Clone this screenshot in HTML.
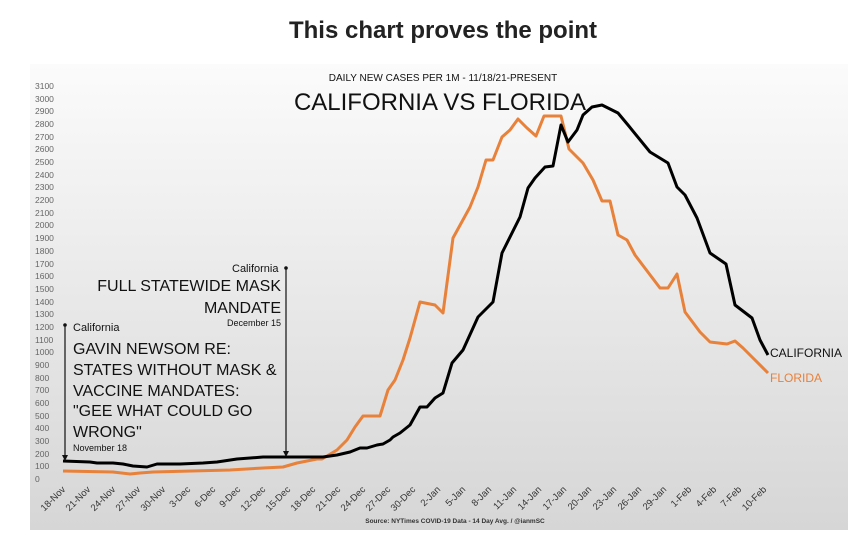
<!DOCTYPE html>
<html><head><meta charset="utf-8"><style>
body{margin:0;background:#fff;}
svg{display:block;font-family:"Liberation Sans",sans-serif;}
</style></head><body>
<svg width="867" height="548" viewBox="0 0 867 548">
<defs><linearGradient id="g" x1="0" y1="0" x2="0" y2="1">
<stop offset="0" stop-color="#fbfbfb"/><stop offset="1" stop-color="#d6d6d6"/></linearGradient></defs>
<text x="443" y="38" text-anchor="middle" font-size="24" font-weight="bold" fill="#222">This chart proves the point</text>
<rect x="30" y="64" width="818" height="466" fill="url(#g)"/>
<text x="443" y="81" text-anchor="middle" font-size="10" fill="#111">DAILY NEW CASES PER 1M - 11/18/21-PRESENT</text>
<text x="440" y="110" text-anchor="middle" font-size="24" fill="#111">CALIFORNIA VS FLORIDA</text>
<g font-size="8.5" fill="#666">
<text x="35" y="89">3100</text><text x="35" y="102">3000</text><text x="35" y="114">2900</text><text x="35" y="127">2800</text><text x="35" y="140">2700</text><text x="35" y="152">2600</text><text x="35" y="165">2500</text><text x="35" y="178">2400</text><text x="35" y="190">2300</text><text x="35" y="203">2200</text><text x="35" y="216">2100</text><text x="35" y="228">2000</text><text x="35" y="241">1900</text><text x="35" y="254">1800</text><text x="35" y="267">1700</text><text x="35" y="279">1600</text><text x="35" y="292">1500</text><text x="35" y="305">1400</text><text x="35" y="317">1300</text><text x="35" y="330">1200</text><text x="35" y="343">1100</text><text x="35" y="355">1000</text><text x="35" y="368">900</text><text x="35" y="381">800</text><text x="35" y="393">700</text><text x="35" y="406">600</text><text x="35" y="419">500</text><text x="35" y="431">400</text><text x="35" y="444">300</text><text x="35" y="457">200</text><text x="35" y="469">100</text><text x="35" y="482">0</text>
</g>
<g font-size="9.5" fill="#333" text-anchor="end">
<text transform="translate(66,490) rotate(-45)">18-Nov</text>
<text transform="translate(91,490) rotate(-45)">21-Nov</text>
<text transform="translate(116,490) rotate(-45)">24-Nov</text>
<text transform="translate(141,490) rotate(-45)">27-Nov</text>
<text transform="translate(166,490) rotate(-45)">30-Nov</text>
<text transform="translate(191,490) rotate(-45)">3-Dec</text>
<text transform="translate(216,490) rotate(-45)">6-Dec</text>
<text transform="translate(241,490) rotate(-45)">9-Dec</text>
<text transform="translate(266,490) rotate(-45)">12-Dec</text>
<text transform="translate(291,490) rotate(-45)">15-Dec</text>
<text transform="translate(316,490) rotate(-45)">18-Dec</text>
<text transform="translate(341,490) rotate(-45)">21-Dec</text>
<text transform="translate(366,490) rotate(-45)">24-Dec</text>
<text transform="translate(391,490) rotate(-45)">27-Dec</text>
<text transform="translate(416,490) rotate(-45)">30-Dec</text>
<text transform="translate(441,490) rotate(-45)">2-Jan</text>
<text transform="translate(466,490) rotate(-45)">5-Jan</text>
<text transform="translate(492,490) rotate(-45)">8-Jan</text>
<text transform="translate(517,490) rotate(-45)">11-Jan</text>
<text transform="translate(542,490) rotate(-45)">14-Jan</text>
<text transform="translate(567,490) rotate(-45)">17-Jan</text>
<text transform="translate(592,490) rotate(-45)">20-Jan</text>
<text transform="translate(617,490) rotate(-45)">23-Jan</text>
<text transform="translate(642,490) rotate(-45)">26-Jan</text>
<text transform="translate(667,490) rotate(-45)">29-Jan</text>
<text transform="translate(692,490) rotate(-45)">1-Feb</text>
<text transform="translate(717,490) rotate(-45)">4-Feb</text>
<text transform="translate(742,490) rotate(-45)">7-Feb</text>
<text transform="translate(767,490) rotate(-45)">10-Feb</text>
</g>
<text x="455" y="523" text-anchor="middle" font-size="6.5" font-weight="bold" fill="#333">Source: NYTimes COVID-19 Data - 14 Day Avg. / @ianmSC</text>
<polyline fill="none" stroke="#e8813a" stroke-width="3" stroke-linejoin="round" points="63,471 113,472 130,474 140,473 153,472 230,470 263,468 283,467 297,463 317,459 322,459 337,450 347,440 355,427 363,416 380,416 388,390 395,380 403,360 410,338 420,302 435,305 443,313 453,238 470,207 478,187 486,160 493,160 502,137 510,130 518,119 527,128 536,136 544,116 561,116 569,149 583,163 593,180 602,201 610,201 618,235 627,240 635,255 660,288 668,288 677,274 685,312 700,332 710,342 727,344 735,341 743,348 753,358 768,373"/>
<polyline fill="none" stroke="#000" stroke-width="3" stroke-linejoin="round" points="63,461 90,462 97,463 113,463 123,464 133,466 147,467 157,464 180,464 203,463 217,462 237,459 263,457 297,457 323,457 337,455 350,452 360,448 367,448 377,445 383,444 390,440 393,437 400,433 410,425 420,407 427,407 435,398 443,393 452,363 463,350 478,317 493,302 502,253 520,217 528,188 535,178 545,167 553,166 561,125 568,142 577,130 583,115 592,107 602,105 618,113 628,125 650,152 668,163 677,187 685,195 697,218 710,253 726,264 735,305 752,318 760,340 768,355"/>
<text x="770" y="357" font-size="12" fill="#111">CALIFORNIA</text>
<text x="770" y="382" font-size="12" fill="#e8813a">FLORIDA</text>
<g stroke="#111" stroke-width="1.2"><line x1="65" y1="326" x2="65" y2="456"/><line x1="286" y1="268" x2="286" y2="452"/></g>
<circle cx="65" cy="325" r="1.8" fill="#111"/><circle cx="286" cy="268" r="1.8" fill="#111"/>
<path d="M62,455 L65,461 L68,455Z M283,451 L286,457 L289,451Z" fill="#111"/>
<g fill="#111">
<text x="73" y="331" font-size="11">California</text>
<g font-size="16"><text x="73" y="354">GAVIN NEWSOM RE:</text><text x="73" y="375">STATES WITHOUT MASK &amp;</text><text x="73" y="396">VACCINE MANDATES:</text><text x="73" y="416">"GEE WHAT COULD GO</text><text x="73" y="437">WRONG"</text></g>
<text x="73" y="451" font-size="9">November 18</text>
<text x="232" y="272" font-size="11">California</text>
<g font-size="16" text-anchor="end"><text x="281" y="291">FULL STATEWIDE MASK</text><text x="281" y="313">MANDATE</text></g>
<text x="281" y="326" font-size="9" text-anchor="end">December 15</text>
</g>
</svg>
</body></html>
